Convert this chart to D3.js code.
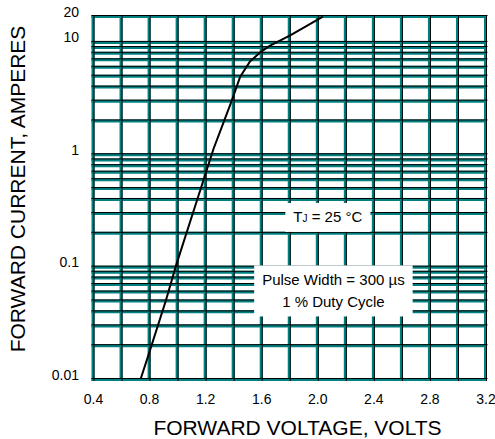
<!DOCTYPE html>
<html>
<head>
<meta charset="utf-8">
<script src="https://cdn.jsdelivr.net/npm/d3@7"></script>
<style>
  body { margin: 0; background: #fff; }
  svg { display: block; font-family: "Liberation Sans", Arial, sans-serif; }
</style>
</head>
<body>
<svg id="chart" width="495" height="439"></svg>
<script>
// forward voltage (V) vs forward current (A)
var voltage = [0.74, 0.80, 0.92, 0.99, 1.26, 1.33, 1.39, 1.45, 1.52, 1.60, 1.66, 1.81, 2.04]
var current = [0.01, 0.017, 0.05, 0.1, 1.12, 1.9, 3.0, 4.9, 6.7, 8.2, 9.2, 11.5, 16.8]

var xTicks = [0.4, 0.8, 1.2, 1.6, 2.0, 2.4, 2.8, 3.2]
var xTickLabels = ["0.4", "0.8", "1.2", "1.6", "2.0", "2.4", "2.8", "3.2"]
var yTicks = [0.01, 0.1, 1, 10, 17]
var yTickLabels = ["0.01", "0.1", "1", "10", "20"]
var decades = [0.01, 0.1, 1]
var decadeTop = 10
var xMin = 0.4, xMax = 3.2, xStep = 0.2
var yMin = 0.01, yMax = 17

var svg = d3.select("#chart")
var margin = ({top: 16, right: 9.5, bottom: 60, left: 93})
var width = 495, height = 439
var teal = "#008080"

var x = d3.scaleLinear()
    .domain([xMin, xMax])
    .range([margin.left, width - margin.right])

var y = d3.scaleLog()
    .domain([yMin, yMax])
    .range([height - margin.bottom, margin.top])

// grid values
var vLines = d3.range(0, Math.round((xMax - xMin) / xStep) + 1).map(i => xMin + i * xStep)
var hLines = []
decades.forEach(d => { for (var k = 1; k <= 9; k++) hLines.push(d * k) })
hLines.push(decadeTop, yMax)

var grid = svg.append("g")

// teal band with a thin black line on it
grid.append("g").selectAll("line")
  .data(hLines)
  .join("line")
    .attr("x1", x(xMin) - 1.5).attr("x2", x(xMax) + 1.5)
    .attr("y1", d => y(d) + 0.5).attr("y2", d => y(d) + 0.5)
    .attr("stroke", teal).attr("stroke-width", 3)

grid.append("g").selectAll("line")
  .data(vLines)
  .join("line")
    .attr("x1", d => x(d)).attr("x2", d => x(d))
    .attr("y1", y(yMax) - 1).attr("y2", y(yMin) + 2)
    .attr("stroke", teal).attr("stroke-width", 3)

grid.append("g").selectAll("line")
  .data(hLines)
  .join("line")
    .attr("x1", x(xMin) - 1.5).attr("x2", x(xMax) + 2)
    .attr("y1", d => y(d) - 0.5).attr("y2", d => y(d) - 0.5)
    .attr("stroke", "#000").attr("stroke-width", 1)

grid.append("g").selectAll("line")
  .data(vLines)
  .join("line")
    .attr("x1", d => x(d) + 1).attr("x2", d => x(d) + 1)
    .attr("y1", y(yMax) - 1).attr("y2", y(yMin) + 2)
    .attr("stroke", "#000").attr("stroke-width", 1)

// curve
var data = voltage.map((v, i) => ({v: v, a: current[i]}))
var line = d3.line()
    .x(d => x(d.v))
    .y(d => y(d.a))

svg.append("path")
    .datum(data)
    .attr("fill", "none")
    .attr("stroke", "#000")
    .attr("stroke-width", 2)
    .attr("d", line)

// annotation boxes
function note(lines, vx, ay, padX, padTop, padBottom) {
    var g = svg.append("g")
    var rect = g.append("rect").attr("fill", "#fff")
    var t = g.append("text")
        .attr("text-anchor", "middle")
        .style("font-size", "15px")
        .attr("fill", "#000")
    lines.forEach((l, i) => {
        var ts = t.append("tspan").attr("x", x(vx)).attr("y", y(ay) + i * 22)
        l.forEach(p => {
            var s = ts.append("tspan").text(p.t)
            if (p.small) s.style("font-size", "10px")
        })
    })
    var b = t.node().getBBox()
    rect.attr("x", b.x - padX).attr("y", b.y - padTop)
        .attr("width", b.width + padX * 2).attr("height", b.height + padTop + padBottom)
}

note([[{t: "T"}, {t: "J", small: true}, {t: " = 25 \u00B0C"}]], 2.075, 0.25, 8, 5, 7)
note([[{t: "Pulse Width = 300 \u00B5s"}], [{t: "1 % Duty Cycle"}]], 2.115, 0.068, 8, 6, 6)

// axes
var xAxis = g => g
    .attr("transform", `translate(0,${height - margin.bottom})`)
    .call(d3.axisBottom(x).tickValues(xTicks).tickFormat((d, i) => xTickLabels[i]).tickSize(0).tickPadding(15))
    .call(g => g.select(".domain").remove())

var yAxis = g => g
    .attr("transform", `translate(${margin.left},0)`)
    .call(d3.axisLeft(y).tickValues(yTicks).tickFormat((d, i) => yTickLabels[i]).tickSize(0).tickPadding(14))
    .call(g => g.select(".domain").remove())
    .call(g => g.selectAll("text").attr("dy", "0"))

svg.append("g").call(xAxis)
  .call(g => g.selectAll("text").style("font-size", "14px").style("font-family", "Liberation Sans, Arial").attr("fill", "#000"))
svg.append("g").call(yAxis)
  .call(g => g.selectAll("text").style("font-size", "14px").style("font-family", "Liberation Sans, Arial").attr("fill", "#000"))

svg.append("text")
    .attr("x", 297.5).attr("y", 435)
    .attr("text-anchor", "middle")
    .style("font-size", "21px")
    .text("FORWARD VOLTAGE, VOLTS")

svg.append("text")
    .attr("transform", "translate(25,189) rotate(-90)")
    .attr("text-anchor", "middle")
    .style("font-size", "21px")
    .text("FORWARD CURRENT, AMPERES")
</script>
</body>
</html>
